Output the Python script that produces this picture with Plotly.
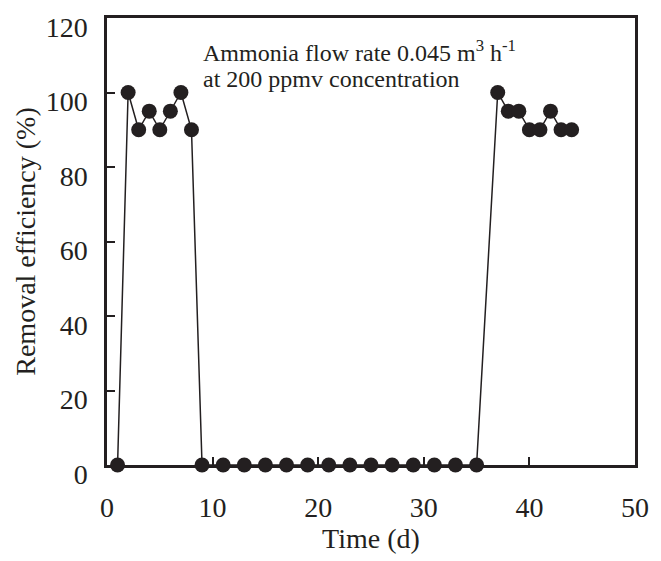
import plotly.graph_objects as go

days = [1, 2, 3, 4, 5, 6, 7, 8, 9, 11, 13, 15, 17, 19, 21, 23, 25, 27, 29, 31, 33, 35,
        37, 38, 39, 40, 41, 42, 43, 44]
efficiency = [0, 100, 90, 95, 90, 95, 100, 90, 0, 0, 0, 0, 0, 0, 0, 0, 0, 0, 0, 0, 0, 0,
              100, 95, 95, 90, 90, 95, 90, 90]
x_ticks = [0, 10, 20, 30, 40, 50]
y_ticks = [0, 20, 40, 60, 80, 100, 120]
note_lines = ["Ammonia flow rate 0.045 m<sup>3</sup> h<sup>-1</sup>",
              "at 200 ppmv concentration"]

INK = "#231f20"
FONT = "Liberation Serif"
FS = 28

fig = go.Figure()
fig.add_trace(go.Scatter(
    x=days, y=efficiency, mode="lines+markers",
    line=dict(color=INK, width=1.5),
    marker=dict(color=INK, size=15),
    cliponaxis=False, showlegend=False,
))

axis_common = dict(
    showgrid=False, zeroline=False, showline=True, linecolor=INK, linewidth=2.5,
    mirror=True, ticks="inside", ticklen=8, tickwidth=1.5, tickcolor=INK,
    tickfont=dict(family=FONT, size=FS, color=INK),
)

fig.update_xaxes(range=[0, 50], tickvals=x_ticks, ticklabelstandoff=16,
                 title=dict(text="Time (d)", font=dict(family=FONT, size=FS, color=INK), standoff=6),
                 **axis_common)
fig.update_yaxes(range=[0, 120], tickvals=y_ticks, ticklabelstandoff=11, ticklabelshift=9,
                 title=dict(text="Removal efficiency (%)", font=dict(family=FONT, size=FS, color=INK), standoff=2),
                 **axis_common)

L, R, T, B = 107, 18, 16, 95
pw, ph = 661 - L - R, 561 - T - B
for line, ypx in zip(note_lines, [49, 77]):
    fig.add_annotation(
        x=(202 - L) / pw, y=1 - (ypx - T) / ph, xref="paper", yref="paper",
        xanchor="left", yanchor="middle", showarrow=False,
        text=line, align="left", font=dict(family=FONT, size=24, color=INK),
    )

fig.update_layout(
    width=661, height=561,
    margin=dict(l=L, r=R, t=T, b=B),
    paper_bgcolor="white", plot_bgcolor="white",
)

fig.write_html("out.html")
